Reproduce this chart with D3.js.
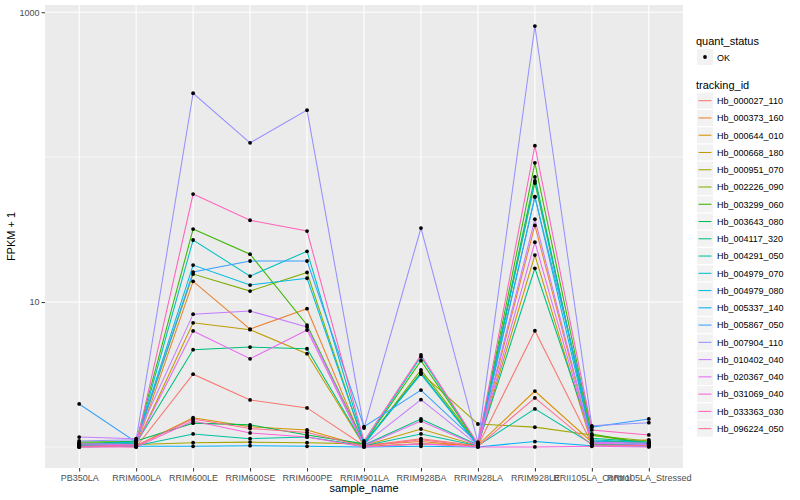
<!DOCTYPE html>
<html>
<head>
<meta charset="utf-8">
<script src="https://cdn.jsdelivr.net/npm/d3@7"></script>
<style>
  body { margin: 0; background: #fff; }
  text { font-family: "Liberation Sans", Arial, sans-serif; }
</style>
</head>
<body>
<div id="viz"></div>
<script>
// ggplot default hue palette for 20 levels
const seriesColors = ['#F8766D','#EA8331','#D89000','#C09B00','#A3A500','#7CAE00','#39B600','#00BB4E','#00BF7D','#00C1A3',
  '#00BFC4','#00BAE0','#00B0F6','#35A2FF','#9590FF','#C77CFF','#E76BF3','#FA62DB','#FF62BC','#FF6C91'];

const sampleNames = ['PB350LA','RRIM600LA','RRIM600LE','RRIM600SE','RRIM600PE','RRIM901LA',
  'RRIM928BA','RRIM928LA','RRIM928LE','RRII105LA_Control','RRII105LA_Stressed'];

const trackingIds = ['Hb_000027_110','Hb_000373_160','Hb_000644_010','Hb_000668_180','Hb_000951_070',
  'Hb_002226_090','Hb_003299_060','Hb_003643_080','Hb_004117_320','Hb_004291_050',
  'Hb_004979_070','Hb_004979_080','Hb_005337_140','Hb_005867_050','Hb_007904_110',
  'Hb_010402_040','Hb_020367_040','Hb_031069_040','Hb_033363_030','Hb_096224_050'];

const quantStatus = ['OK'];
const yTicks = [10, 1000];

// FPKM + 1, one row per tracking id, columns follow sampleNames
const fpkmPlusOne = [
  [1.03, 1.00, 3.18, 2.11, 1.86, 1.02, 1.14, 1.02, 6.34, 1.05, 1.03],
  [1.02, 1.01, 13.9, 6.51, 9.00, 1.03, 1.09, 1.01, 33.8, 1.06, 1.12],
  [1.01, 1.02, 1.59, 1.38, 1.31, 1.01, 1.05, 1.03, 2.43, 1.08, 1.07],
  [1.05, 1.03, 7.19, 6.45, 4.40, 1.02, 1.33, 1.02, 21.1, 1.04, 1.02],
  [1.02, 1.04, 1.07, 1.08, 1.07, 1.05, 3.24, 1.44, 1.37, 1.21, 1.05],
  [1.06, 1.07, 15.6, 11.9, 16.0, 1.04, 3.40, 1.05, 66.3, 1.20, 1.10],
  [1.08, 1.09, 31.9, 21.4, 6.94, 1.06, 3.94, 1.04, 91.3, 1.23, 1.05],
  [1.04, 1.10, 1.46, 1.42, 1.21, 1.05, 3.25, 1.03, 73.0, 1.10, 1.06],
  [1.03, 1.06, 4.69, 4.89, 4.76, 1.03, 1.56, 1.03, 17.1, 1.15, 1.08],
  [1.02, 1.02, 1.23, 1.14, 1.17, 1.02, 1.23, 1.02, 1.83, 1.05, 1.03],
  [1.03, 1.05, 26.8, 15.1, 22.4, 1.07, 4.19, 1.04, 68.5, 1.12, 1.07],
  [1.04, 1.08, 18.0, 13.1, 14.6, 1.05, 3.18, 1.02, 53.4, 1.10, 1.04],
  [1.00, 1.01, 1.01, 1.02, 1.01, 1.00, 1.01, 1.00, 1.09, 1.02, 1.01],
  [1.98, 1.08, 16.1, 19.2, 19.2, 1.38, 2.47, 1.06, 53.0, 1.37, 1.56],
  [1.10, 1.12, 276, 125.6, 211, 1.35, 32.4, 1.08, 803, 1.40, 1.47],
  [1.17, 1.14, 8.25, 8.67, 6.72, 1.04, 2.12, 1.03, 37.3, 1.08, 1.06],
  [1.05, 1.04, 6.32, 4.06, 6.41, 1.02, 1.51, 1.02, 25.9, 1.06, 1.04],
  [1.00, 1.00, 1.51, 1.25, 1.17, 1.00, 1.05, 1.00, 1.00, 1.01, 1.00],
  [1.01, 1.03, 55.6, 36.7, 30.9, 1.10, 4.31, 1.05, 120, 1.31, 1.21],
  [1.00, 1.02, 1.56, 1.34, 1.26, 1.01, 1.12, 1.01, 2.18, 1.03, 1.02]
];

function createViz() {
  const width = 800, height = 500;
  const panel = { left: 45, right: 683, top: 5, bottom: 468 };

  const svg = d3.select('#viz').append('svg')
    .attr('width', width)
    .attr('height', height);

  svg.append('rect')
    .attr('x', panel.left).attr('y', panel.top)
    .attr('width', panel.right - panel.left)
    .attr('height', panel.bottom - panel.top)
    .attr('fill', '#EBEBEB');

  // discrete x with ggplot's 0.6 expansion
  const n = sampleNames.length;
  const xLin = d3.scaleLinear()
    .domain([1 - 0.6, n + 0.6])
    .range([panel.left, panel.right]);
  const x = name => xLin(sampleNames.indexOf(name) + 1);

  // log y with 5% expansion in log space
  const allVals = fpkmPlusOne.flat();
  const lo = Math.log10(d3.min(allVals)), hi = Math.log10(d3.max(allVals));
  const pad = (hi - lo) * 0.05;
  const y = d3.scaleLog()
    .domain([Math.pow(10, lo - pad), Math.pow(10, hi + pad)])
    .range([panel.bottom, panel.top]);

  const grid = svg.append('g');
  // minor grid at 1 and 100
  [1, 100].forEach(v => {
    grid.append('line')
      .attr('x1', panel.left).attr('x2', panel.right)
      .attr('y1', y(v)).attr('y2', y(v))
      .attr('stroke', '#fff').attr('stroke-width', 0.55);
  });
  yTicks.forEach(v => {
    grid.append('line')
      .attr('x1', panel.left).attr('x2', panel.right)
      .attr('y1', y(v)).attr('y2', y(v))
      .attr('stroke', '#fff').attr('stroke-width', 1.1);
  });
  sampleNames.forEach(s => {
    grid.append('line')
      .attr('x1', x(s)).attr('x2', x(s))
      .attr('y1', panel.top).attr('y2', panel.bottom)
      .attr('stroke', '#fff').attr('stroke-width', 1.1);
  });

  // axes
  const yAxis = svg.append('g')
    .attr('transform', `translate(${panel.left},0)`)
    .call(d3.axisLeft(y).tickValues(yTicks).tickFormat(d3.format('d')).tickSize(3.5).tickPadding(2));
  const xAxis = svg.append('g')
    .attr('transform', `translate(0,${panel.bottom})`)
    .call(d3.axisBottom(xLin).tickValues(d3.range(1, n + 1)).tickFormat(i => sampleNames[i - 1]).tickSize(3.5).tickPadding(3));
  [yAxis, xAxis].forEach(a => {
    a.select('.domain').remove();
    a.selectAll('.tick line').attr('stroke', '#333333').attr('stroke-width', 1);
    a.selectAll('.tick text').attr('fill', '#4D4D4D').style('font-size', '9px')
      .style('font-family', '"Liberation Sans", Arial, sans-serif');
  });

  svg.append('text')
    .attr('x', (panel.left + panel.right) / 2).attr('y', 492)
    .attr('text-anchor', 'middle').style('font-size', '11px').attr('fill', '#000')
    .text('sample_name');
  svg.append('text')
    .attr('transform', `translate(15,${(panel.top + panel.bottom) / 2}) rotate(-90)`)
    .attr('text-anchor', 'middle').style('font-size', '11px').attr('fill', '#000')
    .text('FPKM + 1');

  // lines
  const line = d3.line()
    .x((d, i) => x(sampleNames[i]))
    .y(d => y(d));
  const plot = svg.append('g');
  fpkmPlusOne.forEach((row, k) => {
    plot.append('path')
      .attr('d', line(row))
      .attr('fill', 'none')
      .attr('stroke', seriesColors[k])
      .attr('stroke-width', 1.05);
  });
  fpkmPlusOne.forEach(row => {
    row.forEach((v, i) => {
      plot.append('circle')
        .attr('cx', x(sampleNames[i])).attr('cy', y(v))
        .attr('r', 1.9).attr('fill', '#000');
    });
  });

  // legend
  const legend = svg.append('g');
  const lx = 696;
  legend.append('text').attr('x', lx).attr('y', 44.5).style('font-size', '11px').text('quant_status');
  legend.append('rect').attr('x', lx + 1).attr('y', 49).attr('width', 16).attr('height', 16).attr('fill', '#F2F2F2');
  legend.append('circle').attr('cx', lx + 9).attr('cy', 57).attr('r', 1.9).attr('fill', '#000');
  legend.append('text').attr('x', lx + 21).attr('y', 60.5).style('font-size', '9px').text(quantStatus[0]);

  legend.append('text').attr('x', lx).attr('y', 88.5).style('font-size', '11px').text('tracking_id');
  const keyStep = 17.26;
  trackingIds.forEach((id, k) => {
    const cy = 100.7 + k * keyStep;
    legend.append('rect').attr('x', lx + 1).attr('y', cy - 8).attr('width', 16).attr('height', 16).attr('fill', '#F2F2F2');
    legend.append('line').attr('x1', lx + 2.5).attr('x2', lx + 15.5).attr('y1', cy).attr('y2', cy)
      .attr('stroke', seriesColors[k]).attr('stroke-width', 1.05);
    legend.append('text').attr('x', lx + 21).attr('y', cy + 3.3).style('font-size', '9px').text(id);
  });
}

createViz();
</script>
</body>
</html>
